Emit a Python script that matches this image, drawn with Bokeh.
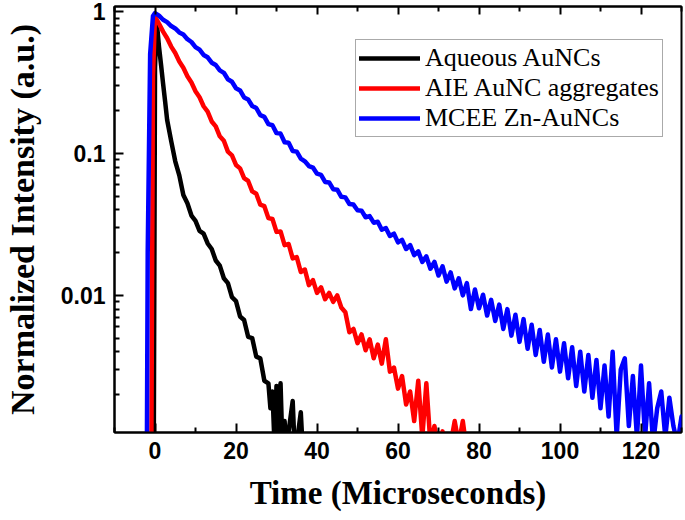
from bokeh.plotting import figure
from bokeh.models import (Range1d, FixedTicker, LinearAxis,
                          Legend, LegendItem, CustomJSTickFormatter)
from bokeh.embed import file_html
from bokeh.resources import INLINE

# ---------------- data ----------------
black_t = [-0.3, 0.0, 0.4, 1, 1.5, 2, 2.5, 3, 4, 5, 6, 7, 8, 9, 10, 11, 12, 13, 14, 15,
           16, 17, 18, 19, 20, 21, 22, 23, 24, 25, 26, 27, 28, 28.5, 29, 29.5, 30, 30.5,
           31, 31.5, 32, 32.5, 33, 34, 34.5, 35, 36, 36.5]
black_i = [0.0008, 0.4, 0.86, 0.56, 0.42, 0.31, 0.232, 0.172, 0.122, 0.088, 0.070, 0.051,
           0.0445, 0.0365, 0.0335, 0.0285, 0.0272, 0.0232, 0.0212, 0.0176, 0.0162, 0.0132,
           0.0122, 0.0097, 0.0091, 0.0071, 0.0067, 0.0051, 0.0050, 0.0037, 0.0036, 0.0025,
           0.0024, 0.0016, 0.0021, 0.0009, 0.0023, 0.0010, 0.0024, 0.0008, 0.0013, 0.0008,
           0.0011, 0.0018, 0.0008, 0.0009, 0.0015, 0.0008]

red_t = [-0.9, -0.5] + list(range(0, 78))
red_i = [0.0008, 0.35,
         0.92, 0.82, 0.722, 0.648, 0.566, 0.510, 0.445, 0.402, 0.350, 0.316,
         0.274, 0.249, 0.215, 0.197, 0.168, 0.155, 0.132, 0.123, 0.103, 0.0970,
         0.0830, 0.0785, 0.0670, 0.0640, 0.0540, 0.0520, 0.0435, 0.0425, 0.0350, 0.0345,
         0.0280, 0.0282, 0.0226, 0.0230, 0.0182, 0.0186, 0.0146, 0.0152, 0.0118, 0.0128,
         0.0104, 0.0114, 0.0094, 0.0104, 0.0090, 0.0100, 0.0082, 0.0076, 0.0055, 0.0058,
         0.0046, 0.0053, 0.0041, 0.0049, 0.0036, 0.0045, 0.0033, 0.0049, 0.0029, 0.0031,
         0.0022, 0.0027, 0.0017, 0.0021, 0.0013, 0.0025, 0.0010, 0.0024, 0.0009, 0.0012,
         0.0008, 0.0011, 0.0008, 0.0009, 0.0013, 0.0009, 0.0013, 0.0008]

blue_t = [-2.0, -1.8, -1.2, -0.5] + list(range(0, 131))
blue_i = [0.0009, 0.02, 0.5, 0.93,
          0.975, 0.935, 0.875, 0.842, 0.790, 0.760, 0.712, 0.688, 0.638, 0.610,
          0.562, 0.538, 0.494, 0.476, 0.436, 0.420, 0.385, 0.370, 0.333, 0.320,
          0.288, 0.278, 0.248, 0.240, 0.216, 0.209, 0.186, 0.181, 0.161, 0.158,
          0.139, 0.138, 0.120, 0.119, 0.104, 0.103, 0.0920, 0.0880, 0.0815, 0.0795,
          0.0720, 0.0705, 0.0630, 0.0625, 0.0560, 0.0555, 0.0495, 0.0490, 0.0440, 0.0436,
          0.0398, 0.0395, 0.0355, 0.0362, 0.0325, 0.0330, 0.0290, 0.0298, 0.0262, 0.0272,
          0.0236, 0.0246, 0.0212, 0.0226, 0.0192, 0.0204, 0.0172, 0.0188, 0.0154, 0.0172,
          0.0138, 0.0160, 0.0125, 0.0145, 0.0112, 0.0132, 0.0100, 0.0122, 0.0080, 0.0110,
          0.0081, 0.0101, 0.0072, 0.0093, 0.0066, 0.0086, 0.0058, 0.0080, 0.0052, 0.0073,
          0.0047, 0.0068, 0.0042, 0.0062, 0.0038, 0.0057, 0.0034, 0.0053, 0.0031, 0.0049,
          0.0029, 0.0046, 0.0026, 0.0043, 0.0023, 0.0040, 0.0021, 0.0038, 0.0019, 0.0035,
          0.0016, 0.0032, 0.0014, 0.0040, 0.0010, 0.0030, 0.0036, 0.0012, 0.0027, 0.0010,
          0.0032, 0.0010, 0.0024, 0.0009, 0.0016, 0.0021, 0.0010, 0.0019, 0.0012, 0.0009,
          0.0014]

series_names = ["Aqueous AuNCs", "AIE AuNC aggregates", "MCEE Zn-AuNCs"]
series_colors = ["black", "red", "blue"]

x_major = [0, 20, 40, 60, 80, 100, 120]
x_minor = [-10, 10, 30, 50, 70, 90, 110, 130]
y_major = [0.01, 0.1, 1]
y_minor = [0.002, 0.003, 0.004, 0.005, 0.006, 0.007, 0.008, 0.009,
           0.02, 0.03, 0.04, 0.05, 0.06, 0.07, 0.08, 0.09,
           0.2, 0.3, 0.4, 0.5, 0.6, 0.7, 0.8, 0.9]

x_title = "Time (Microseconds)"
y_title = "Normalized Intensity (a.u.)"

# ---------------- figure ----------------
p = figure(width=685, height=520, y_axis_type="log",
           x_range=Range1d(-10, 130), y_range=Range1d(0.00108, 1.085),
           output_backend="svg", toolbar_location=None,
           min_border_left=113, min_border_right=4, min_border_top=6, min_border_bottom=88)
p.grid.visible = False
p.outline_line_color = "black"
p.outline_line_width = 2
p.background_fill_color = "white"
p.border_fill_color = "white"

renderers = []
for t, v, c in zip([black_t, red_t, blue_t], [black_i, red_i, blue_i], series_colors):
    r = p.line(t, v, line_color=c, line_width=4.5, line_join="round", line_cap="round")
    renderers.append(r)

xa = p.xaxis[0]
xa.ticker = FixedTicker(ticks=x_major, minor_ticks=x_minor)
xa.axis_label = x_title
ya = p.yaxis[0]
ya.ticker = FixedTicker(ticks=y_major, minor_ticks=y_minor)
ya.formatter = CustomJSTickFormatter(code="return tick.toString();")
ya.axis_label = y_title

for ax in (xa, ya):
    ax.axis_line_width = 2
    ax.axis_line_color = "black"
    ax.major_tick_in = 9
    ax.major_tick_out = 0
    ax.minor_tick_in = 5
    ax.minor_tick_out = 0
    ax.major_tick_line_width = 2
    ax.minor_tick_line_width = 2
    ax.major_label_text_font = "Liberation Sans"
    ax.major_label_text_font_style = "bold"
    ax.major_label_text_font_size = "23px"
    ax.major_label_text_color = "black"
    ax.axis_label_text_font = "Liberation Serif"
    ax.axis_label_text_font_style = "bold"
    ax.axis_label_text_color = "black"

xa.axis_label_text_font_size = "33px"
ya.axis_label_text_font_size = "34px"
xa.major_label_standoff = 9
xa.axis_label_standoff = 13
ya.major_label_standoff = 9
ya.axis_label_standoff = 17

top = LinearAxis(ticker=FixedTicker(ticks=x_major, minor_ticks=x_minor),
                 formatter=CustomJSTickFormatter(code="return '';"),
                 major_label_text_font_size="1px", major_label_standoff=0,
                 major_tick_in=8, major_tick_out=0, minor_tick_in=5, minor_tick_out=0,
                 major_tick_line_width=2, minor_tick_line_width=2,
                 axis_line_width=2)
p.add_layout(top, "above")

legend = Legend(items=[LegendItem(label=n, renderers=[r]) for n, r in zip(series_names, renderers)],
                location=(241, 295), padding=3, spacing=0, label_height=30, glyph_height=30,
                glyph_width=61, label_standoff=5,
                label_text_font="Liberation Serif", label_text_font_size="26px",
                label_text_color="black", border_line_color="#555555", border_line_width=1,
                background_fill_color="white", background_fill_alpha=1.0, margin=0)
p.add_layout(legend)

open("out.html", "w").write(file_html(p, INLINE))
